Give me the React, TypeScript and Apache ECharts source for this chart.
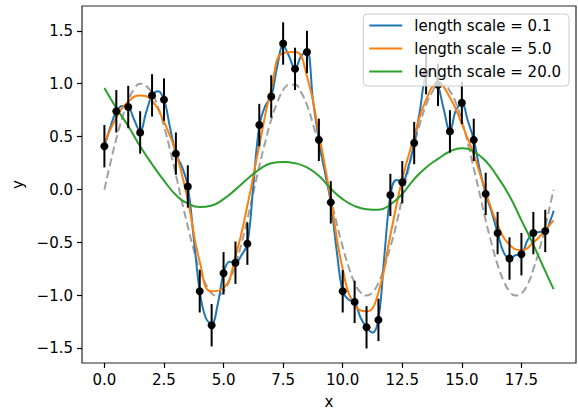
import React, { useEffect, useRef } from "react";
import * as echarts from "echarts";

// observations (x, y) with constant error bar half-height
const obsX = [0, 0.5, 1, 1.5, 2, 2.5, 3, 3.5, 4, 4.5, 5, 5.5, 6, 6.5, 7, 7.5, 8, 8.5, 9, 9.5, 10, 10.5, 11, 11.5, 12, 12.5, 13, 13.5, 14, 14.5, 15, 15.5, 16, 16.5, 17, 17.5, 18, 18.5];
const obsY = [0.41, 0.74, 0.78, 0.54, 0.89, 0.85, 0.34, 0.03, -0.96, -1.28, -0.79, -0.69, -0.51, 0.61, 0.88, 1.38, 1.14, 1.3, 0.47, -0.12, -0.96, -1.06, -1.3, -1.23, -0.05, 0.07, 0.44, 1.1, 0.99, 0.55, 0.82, 0.47, -0.04, -0.41, -0.65, -0.61, -0.41, -0.39];
const obsErr = 0.2;

// fine grid (true function, length scale 0.1)
const fineX = [0, 0.25, 0.5, 0.75, 1, 1.25, 1.5, 1.75, 2, 2.25, 2.5, 2.75, 3, 3.25, 3.5, 3.75, 4, 4.25, 4.5, 4.75, 5, 5.25, 5.5, 5.75, 6, 6.25, 6.5, 6.75, 7, 7.25, 7.5, 7.75, 8, 8.25, 8.5, 8.75, 9, 9.25, 9.5, 9.75, 10, 10.25, 10.5, 10.75, 11, 11.25, 11.5, 11.75, 12, 12.25, 12.5, 12.75, 13, 13.25, 13.5, 13.75, 14, 14.25, 14.5, 14.75, 15, 15.25, 15.5, 15.75, 16, 16.25, 16.5, 16.75, 17, 17.25, 17.5, 17.75, 18, 18.25, 18.5, 18.75, 18.85];
const trueY = [0, 0.25, 0.48, 0.68, 0.84, 0.95, 1.0, 0.98, 0.91, 0.78, 0.6, 0.38, 0.14, -0.11, -0.35, -0.57, -0.76, -0.89, -0.98, -1.0, -0.96, -0.86, -0.71, -0.51, -0.28, -0.03, 0.22, 0.45, 0.66, 0.82, 0.94, 0.99, 0.99, 0.92, 0.8, 0.62, 0.41, 0.17, -0.08, -0.32, -0.54, -0.73, -0.88, -0.97, -1.0, -0.97, -0.88, -0.73, -0.54, -0.33, -0.07, 0.18, 0.42, 0.63, 0.8, 0.92, 0.99, 0.99, 0.93, 0.82, 0.65, 0.44, 0.2, -0.04, -0.29, -0.51, -0.71, -0.86, -0.96, -1.0, -0.98, -0.9, -0.75, -0.57, -0.35, -0.1, 0.0];
const blueY = [0.41, 0.59, 0.74, 0.79, 0.78, 0.66, 0.55, 0.73, 0.89, 0.93, 0.85, 0.59, 0.34, 0.22, 0.03, -0.46, -0.96, -1.21, -1.27, -1.09, -0.79, -0.68, -0.69, -0.62, -0.51, 0.04, 0.6, 0.79, 0.88, 1.16, 1.36, 1.26, 1.14, 1.26, 1.31, 0.85, 0.47, 0.17, -0.12, -0.58, -0.96, -1.04, -1.06, -1.21, -1.3, -1.35, -1.22, -0.62, -0.06, 0.09, 0.08, 0.21, 0.44, 0.76, 1.1, 1.14, 0.99, 0.75, 0.55, 0.75, 0.81, 0.65, 0.47, 0.19, -0.04, -0.21, -0.41, -0.59, -0.65, -0.62, -0.61, -0.48, -0.41, -0.4, -0.39, -0.27, -0.2];

// coarse grid (length scale 5.0 and 20.0)
const coarseX = [0, 0.5, 1, 1.5, 2, 2.5, 3, 3.5, 4, 4.5, 5, 5.5, 6, 6.5, 7, 7.5, 8, 8.5, 9, 9.5, 10, 10.5, 11, 11.5, 12, 12.5, 13, 13.5, 14, 14.5, 15, 15.5, 16, 16.5, 17, 17.5, 18, 18.5, 18.85];
const orangeY = [0.43, 0.68, 0.83, 0.89, 0.84, 0.64, 0.35, -0.1, -0.68, -0.96, -0.93, -0.63, -0.15, 0.42, 0.95, 1.29, 1.3, 1.07, 0.53, -0.09, -0.75, -1.09, -1.15, -0.97, -0.43, 0.1, 0.5, 0.85, 1.0, 0.87, 0.62, 0.33, -0.02, -0.33, -0.52, -0.57, -0.5, -0.38, -0.29];
const greenY = [0.96, 0.77, 0.6, 0.41, 0.24, 0.085, -0.05, -0.13, -0.165, -0.15, -0.09, 0.0, 0.1, 0.19, 0.25, 0.262, 0.25, 0.21, 0.13, 0.01, -0.09, -0.155, -0.185, -0.19, -0.14, -0.04, 0.1, 0.21, 0.29, 0.36, 0.39, 0.36, 0.27, 0.12, -0.06, -0.29, -0.52, -0.77, -0.94];

const xTicks = [0, 2.5, 5, 7.5, 10, 12.5, 15, 17.5];
const yTicks = [-1.5, -1, -0.5, 0, 0.5, 1, 1.5];
const seriesNames = ["length scale = 0.1", "length scale = 5.0", "length scale = 20.0"];

const fmt = (v: number) => (v < 0 ? "\u2212" + Math.abs(v).toFixed(1) : v.toFixed(1));
const zip = (xs: number[], ys: number[]) => xs.map((x, i) => [x, ys[i]]);

export default function App() {
  const ref = useRef<HTMLDivElement>(null);
  useEffect(() => {
    document.body.style.margin = "0";
    const chart = echarts.init(ref.current!, null, { renderer: "svg" });
    const font = "DejaVu Sans";
    const axisCommon = {
      type: "value",
      splitLine: { show: false },
      axisLine: { show: false, onZero: false },
      nameLocation: "middle",
      nameTextStyle: { fontSize: 15, color: "#000", fontFamily: font },
    };
    chart.setOption({
      animation: false,
      textStyle: { fontFamily: font },
      grid: { left: 82, right: 2, top: 6, bottom: 48, show: true, borderColor: "#262626", borderWidth: 1.2, backgroundColor: "transparent" },
      xAxis: {
        ...axisCommon,
        min: -0.94,
        max: 19.79,
        name: "x",
        nameGap: 31,
        axisTick: { show: true, customValues: xTicks, length: 5, lineStyle: { color: "#000", width: 1.2 } },
        axisLabel: { customValues: xTicks, formatter: fmt, fontSize: 15, color: "#000", margin: 9, fontFamily: font },
      },
      yAxis: {
        ...axisCommon,
        min: -1.637,
        max: 1.734,
        name: "y",
        nameGap: 52,
        nameRotate: 90,
        axisTick: { show: true, customValues: yTicks, length: 5, lineStyle: { color: "#000", width: 1.2 } },
        axisLabel: { customValues: yTicks, formatter: fmt, fontSize: 15, color: "#000", margin: 9, fontFamily: font },
      },
      legend: {
        data: seriesNames,
        orient: "vertical",
        right: 9,
        top: 14,
        icon: "rect",
        itemWidth: 33,
        itemHeight: 2,
        itemGap: 8,
        backgroundColor: "rgba(255,255,255,0.8)",
        borderColor: "#cccccc",
        borderWidth: 1,
        borderRadius: 4,
        padding: [4, 8, 7, 6],
        z: 10,
        textStyle: { fontSize: 15, color: "#000", fontFamily: font, padding: [0, 0, 0, 7] },
      },
      series: [
        {
          name: "true",
          type: "line",
          data: zip(fineX, trueY),
          smooth: true,
          symbol: "none",
          lineStyle: { color: "#a0a0a0", width: 2, type: [8, 4] },
          z: 2,
          silent: true,
        },
        {
          name: seriesNames[0],
          type: "line",
          data: zip(fineX, blueY),
          smooth: 0.4,
          symbol: "none",
          color: "#1f77b4",
          lineStyle: { color: "#1f77b4", width: 2 },
          z: 3,
        },
        {
          name: seriesNames[1],
          type: "line",
          data: zip(coarseX, orangeY),
          smooth: true,
          symbol: "none",
          color: "#ff7f0e",
          lineStyle: { color: "#ff7f0e", width: 2 },
          z: 3,
        },
        {
          name: seriesNames[2],
          type: "line",
          data: zip(coarseX, greenY),
          smooth: true,
          symbol: "none",
          color: "#2ca02c",
          lineStyle: { color: "#2ca02c", width: 2 },
          z: 3,
        },
        {
          name: "errors",
          type: "custom",
          data: obsX.map((x, i) => [x, obsY[i], obsErr]),
          encode: { x: 0, y: [1] },
          z: 4,
          silent: true,
          renderItem: (_p: any, api: any) => {
            const x = api.value(0);
            const y = api.value(1);
            const e = api.value(2);
            const a = api.coord([x, y + e]);
            const b = api.coord([x, y - e]);
            return {
              type: "line",
              shape: { x1: a[0], y1: a[1], x2: b[0], y2: b[1] },
              style: { stroke: "#000", lineWidth: 2 },
            };
          },
        },
        {
          name: "observations",
          type: "scatter",
          data: zip(obsX, obsY),
          symbol: "circle",
          symbolSize: 8,
          itemStyle: { color: "#000", opacity: 1 },
          z: 5,
          silent: true,
        },
      ],
    });
    return () => chart.dispose();
  }, []);
  return <div ref={ref} style={{ width: 578, height: 414 }} />;
}
